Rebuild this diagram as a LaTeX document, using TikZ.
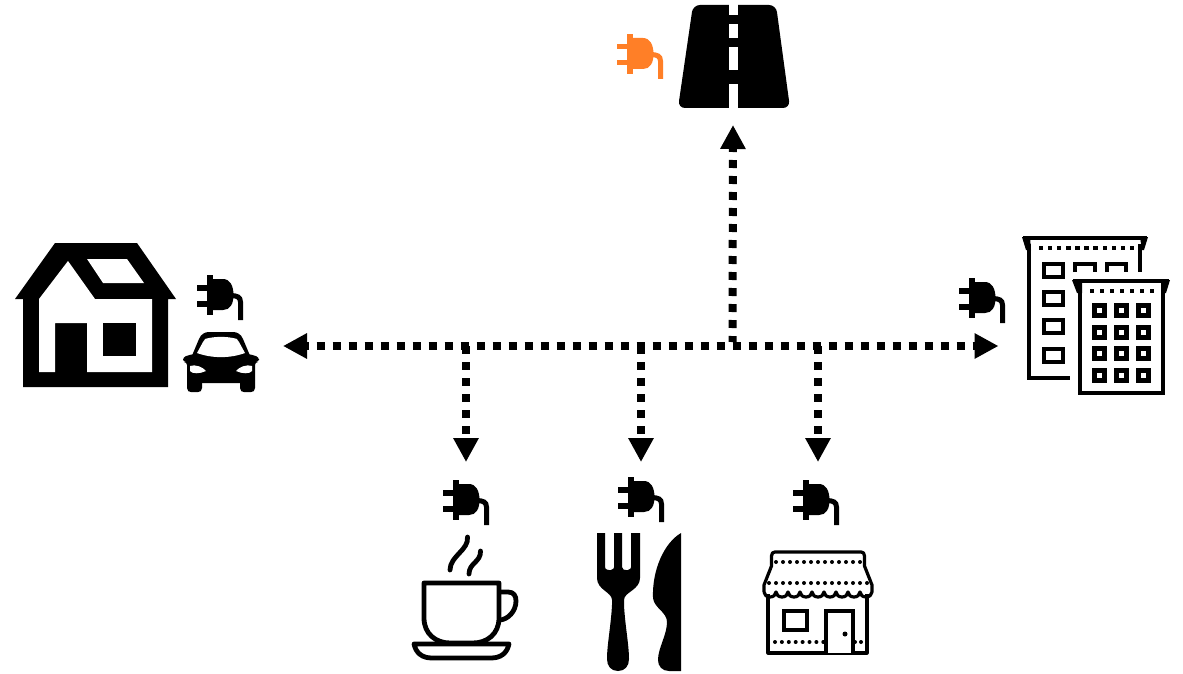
\documentclass[tikz,border=0pt]{standalone}
\usetikzlibrary{arrows.meta}
\definecolor{plugorange}{HTML}{FF7F27}
\tikzset{
  x=1pt,y=-1pt,
  link/.style={line width=8pt,dash pattern=on 8pt off 8pt,black,-{Triangle[length=24pt,width=24pt]}},
  thin icon/.style={draw=black,line width=3.2pt,fill=none},
  mid icon/.style={draw=black,line width=4.2pt,fill=none,line join=miter},
  cup icon/.style={draw=black,line width=4.8pt,fill=none,line join=round},
}
\newcommand{\plugicon}[3]{%
  \begin{scope}[shift={(#1,#2)}]
    \fill[#3] (10,0) rectangle (16,40);
    \fill[#3] (0,10) rectangle (10,15.5);
    \fill[#3] (0,26) rectangle (10,31.5);
    \fill[#3] (16,4) -- (26,4) .. controls (33,4) and (36.5,11) .. (36.5,20) .. controls (36.5,29) and (33,35) .. (26,35) -- (16,35) -- cycle;
    \draw[#3,line width=5pt] (33,20.5) .. controls (40,20.5) and (43.5,22) .. (43.5,27) -- (43.5,45);
  \end{scope}}
\newcommand{\dotrow}[5]{% x0 step y count radius
  \foreach \i in {0,...,\numexpr#4-1\relax}{
    \fill (#1+\i*#2,#3) circle (#5);}}
\newcommand{\squarerow}[4]{% x0 step y count
  \foreach \i in {0,...,\numexpr#4-1\relax}{
    \fill (#1+\i*#2-2.2,#3-2.2) rectangle (#1+\i*#2+2.2,#3+2.2);}}
\begin{document}
\begin{tikzpicture}
\useasboundingbox (0,0) rectangle (1183,674);
\fill[white] (0,0) rectangle (1183,674);

% ---------- connector ends
\coordinate (homeEnd) at (283,346);
\coordinate (flatsEnd) at (998.5,346);
\coordinate (roadEnd) at (733,125);
\coordinate (hubUp) at (732.5,342);
\coordinate (hubCafe) at (466,346);
\coordinate (hubRest) at (641,346);
\coordinate (hubShop) at (818,346);
\coordinate (cafeEnd) at (466,462);
\coordinate (restEnd) at (641,462);
\coordinate (shopEnd) at (818,462);

% ---------- connectors
\draw[link,dash phase=5pt,{Triangle[length=24pt,width=24pt]}-{Triangle[length=24pt,width=24pt]}] (homeEnd) -- (flatsEnd);
\draw[link,dash phase=2pt] (hubUp) -- (roadEnd);
\draw[link] (hubCafe) -- (cafeEnd);
\draw[link] (hubRest) -- (restEnd);
\draw[link] (hubShop) -- (shopEnd);

% ---------- plugs
\plugicon{197}{275}{black}
\plugicon{617}{34}{plugorange}
\plugicon{959}{278}{black}
\plugicon{443}{480}{black}
\plugicon{618}{477}{black}
\plugicon{793}{480}{black}

% ---------- house
\fill (55,243) -- (137,243) -- (176,299) -- (168,299) -- (168,387) -- (23,387) -- (23,299) -- (15,299) -- cycle;
\fill[white] (68,261) -- (95,299) -- (152,299) -- (152,372) -- (87,372) -- (87,323) -- (55,323) -- (55,372) -- (39,372) -- (39,299) -- cycle;
\fill[white] (87,259) -- (127,259) -- (144,283) -- (103,283) -- cycle;
\fill (103,323) rectangle (136,356);

% ---------- car
\fill[rounded corners=3pt] (183,362) -- (183,357) -- (193,354) -- (249,354) -- (259,357) -- (259,362) -- (255,362) -- (255,383) -- (187,383) -- (187,362) -- cycle;
\fill (187,380) -- (187,388) .. controls (187,391) and (189,392) .. (191,392) -- (198,392) .. controls (200,392) and (202,391) .. (202,388) -- (202,380) -- cycle;
\fill (240,380) -- (240,388) .. controls (240,391) and (242,392) .. (244,392) -- (251,392) .. controls (253,392) and (255,391) .. (255,388) -- (255,380) -- cycle;
\fill (191,358) -- (199,339) .. controls (201,334) and (205,332) .. (209,332) -- (233,332) .. controls (237,332) and (241,334) .. (243,339) -- (251,358) -- cycle;
\fill[white] (197,353) -- (203,342) .. controls (204,339) and (206,338) .. (209,338) .. controls (217,336.5) and (225,336.5) .. (233,338) .. controls (236,338) and (238,339) .. (239,342) -- (245,353) .. controls (230,358.5) and (212,358.5) .. (197,353) -- cycle;
\fill[white] (190,366) .. controls (195,364) and (203,367) .. (206,371) .. controls (200,374) and (192,374) .. (190,371) -- cycle;
\fill[white] (252,366) .. controls (247,364) and (239,367) .. (236,371) .. controls (242,374) and (250,374) .. (252,371) -- cycle;

% ---------- road
\fill[rounded corners=7pt] (693,5) -- (776,5) -- (790,108) -- (678,108) -- cycle;
\fill[white] (729,4) rectangle (738,15);
\fill[white] (729,24) rectangle (738,38);
\fill[white] (729,47) rectangle (738,70);
\fill[white] (729,84) rectangle (738,109);

% ---------- buildings
\draw[mid icon] (1023,238) -- (1147,238);
\fill (1022,237) -- (1030,237) -- (1031,250) -- (1026,250) -- cycle;
\fill (1148,237) -- (1140,237) -- (1142,250) -- (1144,250) -- cycle;
\draw[mid icon] (1029,244) -- (1029,378) -- (1070,378);
\draw[mid icon] (1140,244) -- (1140,272);
\squarerow{1041}{9.1}{248}{11}
\foreach \y in {264,292,320,349}{\draw[mid icon] (1044,\y) rectangle (1063,\y+13);}
\draw[mid icon] (1075,272) -- (1075,264) -- (1095,264) -- (1095,272);
\draw[mid icon] (1107,272) -- (1107,264) -- (1126,264) -- (1126,272);
\draw[mid icon] (1073,281) -- (1169,281);
\fill (1072,280) -- (1082,280) -- (1082,293) -- (1077,293) -- cycle;
\fill (1170,280) -- (1161,280) -- (1161,293) -- (1166,293) -- cycle;
\draw[mid icon] (1080,287) -- (1080,393) -- (1163,393) -- (1163,287);
\squarerow{1092}{10}{291}{7}
\foreach \y in {310,332,353,375}{\foreach \x in {1099,1121,1143}{
  \draw[line width=5pt] (\x-5,\y-5) rectangle (\x+5,\y+5);}}

% ---------- cup
\draw[cup icon] (424,583) -- (499,583) -- (499,618) .. controls (499,634) and (487,643) .. (473,643) -- (450,643) .. controls (436,643) and (424,634) .. (424,618) -- cycle;
\draw[cup icon] (499,592) -- (508,592) .. controls (514,592) and (516,596) .. (516,601) .. controls (516,611) and (508,620) .. (499,620);
\draw[cup icon] (414,644) -- (509,644) .. controls (507,653) and (501,658) .. (491,658) -- (432,658) .. controls (422,658) and (416,653) .. (414,644) -- cycle;
\draw[cup icon,line cap=round] (467.5,537) .. controls (469,550) and (450,556) .. (450,570);
\draw[cup icon,line cap=round] (480.5,551) .. controls (481,562) and (469,563) .. (469,574);

% ---------- fork and knife
\fill (597,533) -- (605,533) -- (605,567) .. controls (605,570) and (609,570) .. (609,570) -- (611,570) .. controls (614,570) and (614,567) .. (614,567) -- (614,533) -- (622,533) -- (622,567) .. controls (622,570) and (625,570) .. (626,570) -- (628,570) .. controls (631,570) and (631,567) .. (631,567) -- (631,533) -- (640,533) -- (640,578) .. controls (640,590) and (624,592) .. (624,600) -- (624,605) .. controls (625,625) and (629,645) .. (629,659) .. controls (629,666) and (625,671) .. (618,671) .. controls (611,671) and (607,666) .. (607,659) .. controls (607,645) and (611,625) .. (612,605) -- (612,600) .. controls (612,592) and (597,590) .. (597,578) -- cycle;
\fill (681,533) -- (681,671) -- (669,671) .. controls (662,671) and (658,666) .. (658,660) .. controls (658,648) and (667,635) .. (667,622) .. controls (667,612) and (654,608) .. (653,598) .. controls (652,570) and (664,543) .. (681,533) -- cycle;

% ---------- shop
\draw[thin icon,line join=round] (768,594) -- (768,653) -- (867,653) -- (867,594);
\draw[thin icon,line join=round] (764,592) -- (764,585) -- (771.5,566) -- (771.5,556) .. controls (771.5,553) and (773,552) .. (775,552) -- (861,552) .. controls (863,552) and (864.5,553) .. (864.5,556) -- (864.5,566) -- (872,585) -- (872,592)
  arc[start angle=0,end angle=-180,x radius=6pt,y radius=5pt]
  arc[start angle=0,end angle=-180,x radius=6pt,y radius=5pt]
  arc[start angle=0,end angle=-180,x radius=6pt,y radius=5pt]
  arc[start angle=0,end angle=-180,x radius=6pt,y radius=5pt]
  arc[start angle=0,end angle=-180,x radius=6pt,y radius=5pt]
  arc[start angle=0,end angle=-180,x radius=6pt,y radius=5pt]
  arc[start angle=0,end angle=-180,x radius=6pt,y radius=5pt]
  arc[start angle=0,end angle=-180,x radius=6pt,y radius=5pt]
  arc[start angle=0,end angle=-180,x radius=6pt,y radius=5pt];
\dotrow{776}{7}{562}{13}{2pt}
\dotrow{769}{7}{583}{15}{2pt}
\draw[thin icon] (784,611) rectangle (807,630);
\fill[white] (826,611) rectangle (853,653);
\draw[thin icon] (826,653) -- (826,611) -- (853,611) -- (853,653);
\fill (845,634) circle (2.5pt);
\dotrow{775}{6.9}{642}{8}{2pt}
\dotrow{855}{6}{642}{2}{2pt}
\end{tikzpicture}
\end{document}
